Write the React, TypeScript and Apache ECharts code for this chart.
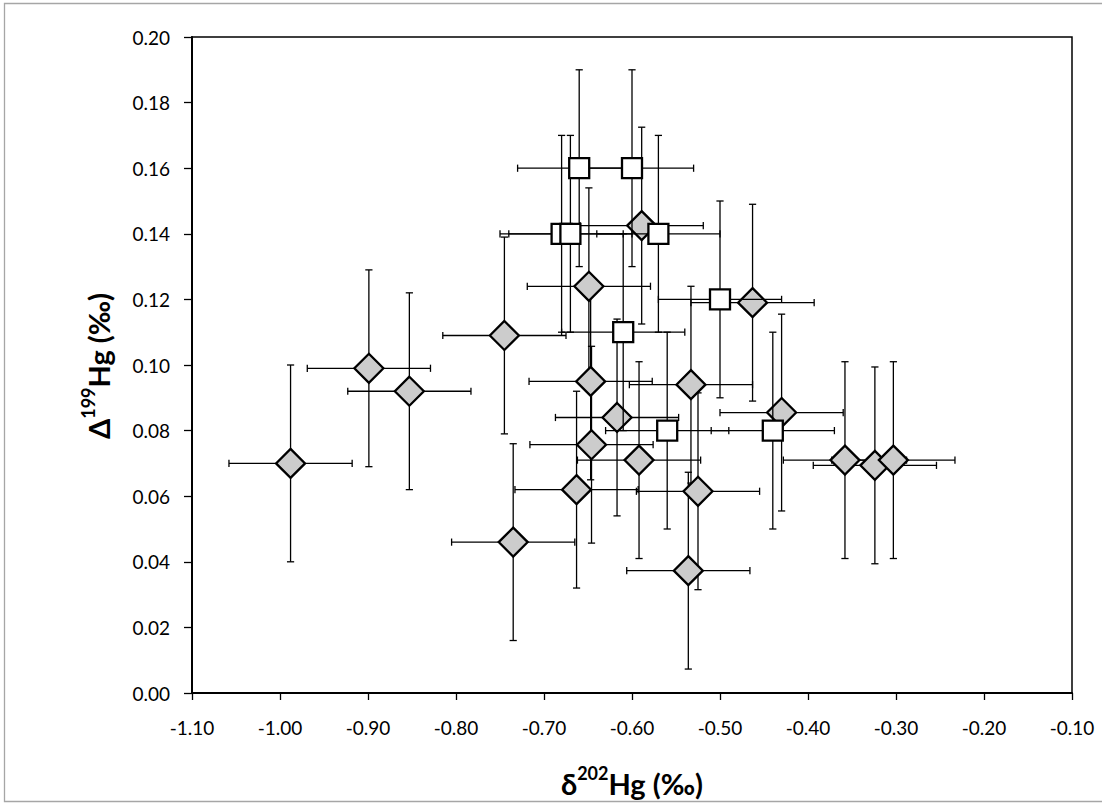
import React, { useEffect, useRef } from "react";
import * as echarts from "echarts";

// Diamond series (grey filled)
const diamondX = [-0.988, -0.899, -0.853, -0.745, -0.735, -0.589, -0.463, -0.649, -0.647, -0.533, -0.617, -0.430, -0.646, -0.592, -0.663, -0.525, -0.536, -0.358, -0.324, -0.303];
const diamondY = [0.070, 0.099, 0.092, 0.109, 0.046, 0.1425, 0.119, 0.124, 0.095, 0.094, 0.084, 0.0855, 0.0757, 0.071, 0.062, 0.0615, 0.0373, 0.071, 0.0694, 0.071];
const diamondXErr = [0.07, 0.07, 0.07, 0.07, 0.07, 0.07, 0.07, 0.07, 0.07, 0.07, 0.07, 0.07, 0.07, 0.07, 0.07, 0.07, 0.07, 0.07, 0.07, 0.07];
const diamondYErr = [0.03, 0.03, 0.03, 0.03, 0.03, 0.03, 0.03, 0.03, 0.03, 0.03, 0.03, 0.03, 0.03, 0.03, 0.03, 0.03, 0.03, 0.03, 0.03, 0.03];

// Square series (white filled)
const squareX = [-0.66, -0.60, -0.68, -0.67, -0.57, -0.50, -0.61, -0.56, -0.44];
const squareY = [0.16, 0.16, 0.14, 0.14, 0.14, 0.12, 0.11, 0.08, 0.08];
const squareXErr = [0.07, 0.07, 0.07, 0.07, 0.07, 0.07, 0.07, 0.07, 0.07];
const squareYErr = [0.03, 0.03, 0.03, 0.03, 0.03, 0.03, 0.03, 0.03, 0.03];

// Axes
const xMin = -1.1;
const xMax = -0.1;
const xStep = 0.1;
const yMin = 0;
const yMax = 0.2;
const yStep = 0.02;

const FONT = "Lato, 'Open Sans', 'DejaVu Sans', sans-serif";

function errData(xs: number[], ys: number[], xe: number[], ye: number[]) {
  return xs.map((x, i) => [x, ys[i], xe[i], ye[i]]);
}

function renderErr(params: any, api: any) {
  const x = api.value(0);
  const y = api.value(1);
  const xe = api.value(2);
  const ye = api.value(3);
  const l = api.coord([x - xe, y]);
  const r = api.coord([x + xe, y]);
  const t = api.coord([x, y + ye]);
  const b = api.coord([x, y - ye]);
  const cap = 3.6;
  const style = { stroke: "#000", lineWidth: 1.3 };
  return {
    type: "group",
    children: [
      { type: "line", shape: { x1: l[0], y1: l[1], x2: r[0], y2: r[1] }, style },
      { type: "line", shape: { x1: t[0], y1: t[1], x2: b[0], y2: b[1] }, style },
      { type: "line", shape: { x1: l[0], y1: l[1] - cap, x2: l[0], y2: l[1] + cap }, style },
      { type: "line", shape: { x1: r[0], y1: r[1] - cap, x2: r[0], y2: r[1] + cap }, style },
      { type: "line", shape: { x1: t[0] - cap, y1: t[1], x2: t[0] + cap, y2: t[1] }, style },
      { type: "line", shape: { x1: b[0] - cap, y1: b[1], x2: b[0] + cap, y2: b[1] }, style },
    ],
  };
}

const titleRich = {
  b: { fontFamily: FONT, fontSize: 29, fontWeight: "bold", lineHeight: 34, verticalAlign: "bottom", fill: "#000" },
  s: { fontFamily: FONT, fontSize: 18, fontWeight: "bold", lineHeight: 18, verticalAlign: "top", fill: "#000" },
};

export default function App() {
  const ref = useRef<HTMLDivElement>(null);
  useEffect(() => {
    if (!ref.current) return;
    const chart = echarts.init(ref.current, null, { renderer: "svg" });
    chart.setOption({
      animation: false,
      backgroundColor: "#fff",
      grid: {
        left: 192,
        right: 30,
        top: 37,
        bottom: 111,
        show: true,
        borderColor: "#000",
        borderWidth: 1.5,
      },
      xAxis: {
        type: "value",
        min: xMin,
        max: xMax,
        interval: xStep,
        axisLine: { show: true, onZero: false, lineStyle: { color: "#000", width: 2 } },
        axisTick: { show: true, inside: false, length: 7, lineStyle: { color: "#000", width: 1.3 } },
        splitLine: { show: false },
        axisLabel: {
          color: "#000",
          fontFamily: FONT,
          fontSize: 19,
          margin: 25,
          formatter: (v: number) => v.toFixed(2),
        },
      },
      yAxis: {
        type: "value",
        min: yMin,
        max: yMax,
        interval: yStep,
        axisLine: { show: true, onZero: false, lineStyle: { color: "#000", width: 2 } },
        axisTick: { show: true, inside: false, length: 8, lineStyle: { color: "#000", width: 1.3 } },
        splitLine: { show: false },
        axisLabel: {
          color: "#000",
          fontFamily: FONT,
          fontSize: 19,
          margin: 22,
          formatter: (v: number) => v.toFixed(2),
        },
      },
      graphic: [
        {
          type: "rect",
          shape: { x: 4.5, y: 3.5, width: 1110, height: 798 },
          style: { fill: "none", stroke: "#a6a6a6", lineWidth: 1.3 },
          silent: true,
          z: 0,
        },
        {
          type: "text",
          x: 632,
          y: 781,
          style: {
            text: "{b|δ}{s|202}{b|Hg (‰)}",
            align: "center",
            verticalAlign: "middle",
            fill: "#000",
            rich: titleRich,
          },
        },
        {
          type: "text",
          x: 96,
          y: 366,
          rotation: Math.PI / 2,
          style: {
            text: "{b|Δ}{s|199}{b|Hg (‰)}",
            align: "center",
            verticalAlign: "middle",
            fill: "#000",
            rich: titleRich,
          },
        },
      ],
      series: [
        {
          type: "custom",
          name: "diamond-err",
          renderItem: renderErr,
          data: errData(diamondX, diamondY, diamondXErr, diamondYErr),
          encode: { x: 0, y: 1 },
          z: 2,
          silent: true,
        },
        {
          type: "scatter",
          name: "diamond",
          symbol: "diamond",
          symbolSize: [29, 29],
          data: diamondX.map((x, i) => [x, diamondY[i]]),
          itemStyle: { color: "#cccccc", borderColor: "#000", borderWidth: 2.3, opacity: 1 },
          z: 3,
        },
        {
          type: "custom",
          name: "square-err",
          renderItem: renderErr,
          data: errData(squareX, squareY, squareXErr, squareYErr),
          encode: { x: 0, y: 1 },
          z: 4,
          silent: true,
        },
        {
          type: "scatter",
          name: "square",
          symbol: "rect",
          symbolSize: [20, 20],
          data: squareX.map((x, i) => [x, squareY[i]]),
          itemStyle: { color: "#ffffff", borderColor: "#000", borderWidth: 2.3, opacity: 1 },
          z: 5,
        },
      ],
    });
    return () => chart.dispose();
  }, []);
  return (
    <div
      ref={ref}
      style={{ position: "fixed", left: 0, top: 0, width: 1102, height: 804 }}
    />
  );
}
